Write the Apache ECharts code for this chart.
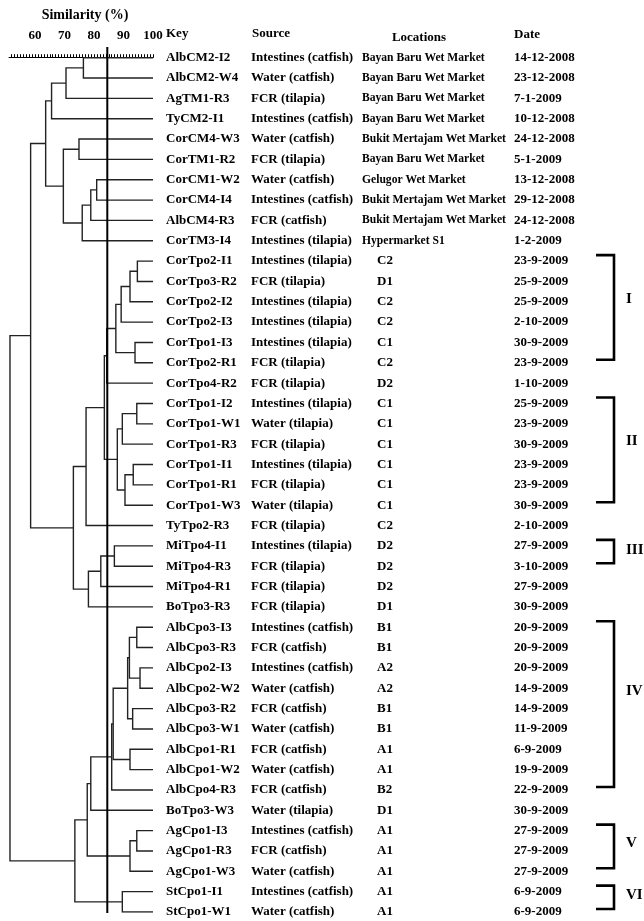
<!DOCTYPE html>
<html><head><meta charset="utf-8">
<script src="https://cdn.jsdelivr.net/npm/echarts@6/dist/echarts.min.js"></script>
<style>html,body{margin:0;padding:0;background:#fff}#c{width:644px;height:921px}</style>
</head><body><div id="c"></div>
<script>
const keys = ['AlbCM2-I2','AlbCM2-W4','AgTM1-R3','TyCM2-I1','CorCM4-W3','CorTM1-R2','CorCM1-W2','CorCM4-I4','AlbCM4-R3','CorTM3-I4',
'CorTpo2-I1','CorTpo3-R2','CorTpo2-I2','CorTpo2-I3','CorTpo1-I3','CorTpo2-R1','CorTpo4-R2',
'CorTpo1-I2','CorTpo1-W1','CorTpo1-R3','CorTpo1-I1','CorTpo1-R1','CorTpo1-W3',
'TyTpo2-R3','MiTpo4-I1','MiTpo4-R3','MiTpo4-R1','BoTpo3-R3',
'AlbCpo3-I3','AlbCpo3-R3','AlbCpo2-I3','AlbCpo2-W2','AlbCpo3-R2','AlbCpo3-W1','AlbCpo1-R1','AlbCpo1-W2','AlbCpo4-R3',
'BoTpo3-W3','AgCpo1-I3','AgCpo1-R3','AgCpo1-W3','StCpo1-I1','StCpo1-W1'];
const sources = ['Intestines (catfish)','Water (catfish)','FCR (tilapia)','Intestines (catfish)','Water (catfish)','FCR (tilapia)','Water (catfish)','Intestines (catfish)','FCR (catfish)','Intestines (tilapia)',
'Intestines (tilapia)','FCR (tilapia)','Intestines (tilapia)','Intestines (tilapia)','Intestines (tilapia)','FCR (tilapia)','FCR (tilapia)',
'Intestines (tilapia)','Water (tilapia)','FCR (tilapia)','Intestines (tilapia)','FCR (tilapia)','Water (tilapia)',
'FCR (tilapia)','Intestines (tilapia)','FCR (tilapia)','FCR (tilapia)','FCR (tilapia)',
'Intestines (catfish)','FCR (catfish)','Intestines (catfish)','Water (catfish)','FCR (catfish)','Water (catfish)','FCR (catfish)','Water (catfish)','FCR (catfish)',
'Water (tilapia)','Intestines (catfish)','FCR (catfish)','Water (catfish)','Intestines (catfish)','Water (catfish)'];
const locations = ['Bayan Baru Wet Market','Bayan Baru Wet Market','Bayan Baru Wet Market','Bayan Baru Wet Market','Bukit Mertajam Wet Market','Bayan Baru Wet Market','Gelugor Wet Market','Bukit Mertajam Wet Market','Bukit Mertajam Wet Market','Hypermarket S1',
'C2','D1','C2','C2','C1','C2','D2',
'C1','C1','C1','C1','C1','C1',
'C2','D2','D2','D2','D1',
'B1','B1','A2','A2','B1','B1','A1','A1','B2',
'D1','A1','A1','A1','A1','A1'];
const dates = ['14-12-2008','23-12-2008','7-1-2009','10-12-2008','24-12-2008','5-1-2009','13-12-2008','29-12-2008','24-12-2008','1-2-2009',
'23-9-2009','25-9-2009','25-9-2009','2-10-2009','30-9-2009','23-9-2009','1-10-2009',
'25-9-2009','23-9-2009','30-9-2009','23-9-2009','23-9-2009','30-9-2009',
'2-10-2009','27-9-2009','3-10-2009','27-9-2009','30-9-2009',
'20-9-2009','20-9-2009','20-9-2009','14-9-2009','14-9-2009','11-9-2009','6-9-2009','19-9-2009','22-9-2009',
'30-9-2009','27-9-2009','27-9-2009','27-9-2009','6-9-2009','6-9-2009'];
// merges: [nodeA, nodeB, similarity %]; leaves are 0..42, merged nodes numbered from 43 in order
const merges = [
 [0,1,76.4],[43,2,70.5],[44,3,65.6],[4,5,74.9],[6,7,80.9],[47,8,78.9],[48,9,76.0],[46,49,69.6],[45,50,63.6],
 [10,11,94.7],[52,12,92.2],[53,13,89.2],[14,15,93.9],[54,55,87.4],[56,16,84.3],
 [17,18,94.5],[58,19,89.6],[20,21,93.3],[60,22,90.5],[59,61,87.9],[57,62,83.5],[63,23,77.3],
 [24,25,86.9],[65,26,82.3],[66,27,78.1],[64,67,73.0],[51,68,58.5],
 [28,29,94.5],[30,31,95.6],[70,71,92.0],[32,33,93.1],[72,73,91.4],[34,35,92.2],[74,75,86.5],[76,36,86.0],[77,37,78.9],
 [38,39,94.5],[79,40,92.2],[78,80,77.7],[41,42,89.6],[81,82,73.5],[69,83,51.5]
];
const cutoffSimilarity = 84.5;
const axisTickValues = [];
for (let v = 52; v <= 100; v++) axisTickValues.push(v);
const axisLabelValues = [60, 70, 80, 90, 100];
// clusters: [label, first row, last row]
const clusters = [['I',10,15],['II',17,22],['III',24,25],['IV',28,36],['V',38,40],['VI',41,42]];

const nodes = keys.map((k, i) => ({ s: 100, y: i }));
const segs = [];
merges.forEach(([a, b, s]) => {
  const A = nodes[a], B = nodes[b];
  segs.push({ coords: [[A.s, A.y], [s, A.y], [s, B.y], [B.s, B.y]] });
  nodes.push({ s: s, y: (A.y + B.y) / 2 });
});

const FONT = '"Liberation Serif", "Times New Roman", serif';
const chart = echarts.init(document.getElementById('c'), null, { renderer: 'canvas' });
chart.setOption({
  backgroundColor: '#fff',
  animation: false,
  grid: { left: 9.1, width: 143.9, top: 47, height: 865 },
  xAxis: {
    type: 'value', position: 'top', min: 51.2, max: 100,
    axisLine: { show: true, lineStyle: { color: '#000', width: 1.2 } },
    axisTick: { show: true, customValues: axisTickValues, length: 3.5, lineStyle: { color: '#000', width: 1 } },
    axisLabel: { customValues: axisLabelValues, margin: 5, color: '#000', fontFamily: FONT, fontWeight: 'bold', fontSize: 13 },
    splitLine: { show: false }
  },
  yAxis: { type: 'value', inverse: true, min: -0.526, max: 42, show: false },
  series: [
    { type: 'lines', coordinateSystem: 'cartesian2d', polyline: true, silent: true,
      lineStyle: { color: '#222', width: 1.4, opacity: 1 }, data: segs },
    { type: 'lines', coordinateSystem: 'cartesian2d', polyline: true, silent: true,
      lineStyle: { color: '#000', width: 2, opacity: 1 },
      data: [{ coords: [[cutoffSimilarity, -0.526], [cutoffSimilarity, 42.05]] }] }
  ]
});

const rowY = i => chart.convertToPixel({ yAxisIndex: 0 }, i);
const g = [];
function txt(t, x, y, size, align) {
  g.push({ type: 'text', x: x, y: y, silent: true,
    style: { text: t, fill: '#000', font: 'bold ' + size + 'px ' + FONT, align: align || 'left', verticalAlign: 'middle' } });
}
txt('Similarity (%)', 85, 15, 14, 'center');
txt('Key', 166, 34, 13);
txt('Source', 252, 34, 13);
txt('Locations', 419, 38, 13, 'center');
txt('Date', 514, 35, 13);
keys.forEach((k, i) => {
  const y = rowY(i);
  txt(k, 166, y, 13);
  txt(sources[i], 251, y, 13);
  if (locations[i].length > 3) txt(locations[i], 362, y, 11.6);
  else txt(locations[i], 377, y, 13);
  txt(dates[i], 514, y, 13);
});
clusters.forEach(([lab, a, b]) => {
  const top = rowY(a) - 6, bot = rowY(b) - 3;
  g.push({ type: 'polyline', silent: true,
    shape: { points: [[596, top], [614, top], [614, bot], [596, bot]] },
    style: { stroke: '#000', lineWidth: 2.6, fill: null } });
  txt(lab, 626, top + (bot - top) * 0.42, 15);
});
chart.setOption({ graphic: g });
</script>
</body></html>
